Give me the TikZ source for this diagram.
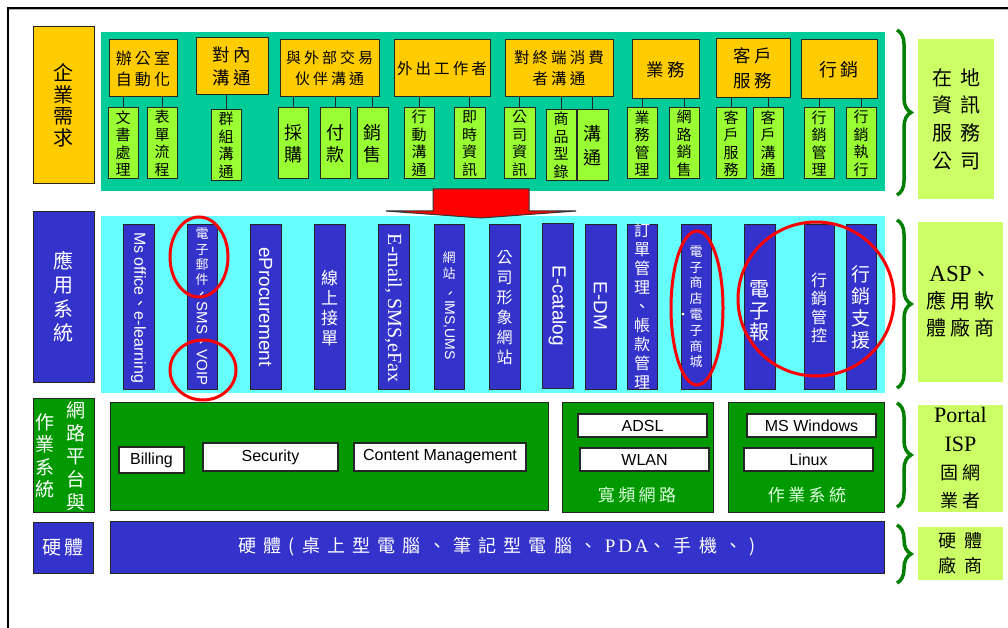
\documentclass[tikz,border=0pt]{standalone}
\usepackage{fontspec}
\setmainfont{Liberation Serif}
\newfontfamily\arial{Liberation Sans}
\newfontfamily\cjk{Noto Sans CJK TC}
\newfontfamily\cjkw[LetterSpace=20]{Noto Sans CJK TC}
\newfontfamily\cjkww[LetterSpace=40]{Noto Sans CJK TC}
\newfontfamily\serifw[LetterSpace=15]{Liberation Serif}
\usetikzlibrary{decorations.pathreplacing,shapes.geometric}
\definecolor{orangeC}{HTML}{FFCC00}
\definecolor{subC}{HTML}{99FF33}
\definecolor{tealC}{HTML}{00CC99}
\definecolor{cyanC}{HTML}{66FFFF}
\definecolor{blueC}{HTML}{3333CC}
\definecolor{dgC}{HTML}{009900}
\definecolor{lgC}{HTML}{CCFF66}
\definecolor{braceC}{HTML}{007F00}
\definecolor{paleC}{HTML}{DDFFDD}
\newcommand\fs[2]{\fontsize{#1}{#2}\selectfont}
\newcommand\B[8]{\node[#1, minimum width={#5-#3}, minimum height={#6-#4}, font={#7}] (#2) at ({(#3+#5)/2},{(#4+#6)/2}) {#8};}
\begin{document}
\begin{tikzpicture}[x=1pt,y=-1pt,
  base/.style={draw=black!85, line width=1pt, inner sep=0pt, outer sep=0pt, align=center},
  orange/.style={base, fill=orangeC},
  sub/.style={base, fill=subC},
  bluebox/.style={base, fill=blueC, text=white},
  dgbox/.style={base, fill=dgC, text=white},
  wbox/.style={base, fill=white, line width=1.2pt},
  bg/.style={draw=none, inner sep=0pt, outer sep=0pt},
  lbl/.style={draw=none, fill=lgC, inner sep=0pt, outer sep=0pt, align=center},
  conn/.style={draw=black!85, line width=1pt},
  ring/.style={ellipse, draw=red, line width=3pt, inner sep=0pt, outer sep=0pt},
  txt/.style={inner sep=0pt, align=center},
  wtxt/.style={inner sep=0pt, align=center, text=white},
  bracestyle/.style={decorate, decoration={brace, amplitude=14pt}, draw=braceC, line width=3.5pt}
]
\useasboundingbox (0,0) rectangle (1008,628);
% frame
\draw[gray!60, line width=1pt] (9,9.8) -- (1008,9.8);
\draw[black, line width=1.2pt] (8,628) -- (8,8) -- (1008,8);

% ===== Row 1 =====
\B{orange}{req}{33}{27}{94}{184}{\cjk\fs{20}{21.5}}{企\\業\\需\\求}
\B{bg, fill=tealC}{tealbg}{101}{32}{885}{191}{}{}
\B{orange}{h1}{109}{40}{177}{97}{\cjkw\fs{16}{21}}{辦公室\\自動化}
\B{orange}{h2}{196}{38}{268}{95}{\cjkw\fs{17.5}{23}}{對內\\溝通}
\B{orange}{h3}{280}{40}{379}{97}{\cjkw\fs{15}{21}}{與外部交易\\伙伴溝通}
\B{orange}{h4}{394}{40}{490}{97}{\cjkw\fs{15.5}{21}}{外出工作者}
\B{orange}{h5}{505}{40}{613}{97}{\cjkw\fs{15.5}{21}}{對終端消費\\者溝通}
\B{orange}{h6}{632}{40}{699}{99}{\cjkw\fs{17.5}{23}}{業務}
\B{orange}{h7}{716}{39}{790}{98}{\cjkw\fs{17.5}{25}}{客戶\\服務}
\B{orange}{h8}{801}{40}{877}{99}{\cjkw\fs{18}{23}}{行銷}

\B{sub}{s1}{108}{108}{138}{179}{\cjk\fs{15}{17.5}}{文\\書\\處\\理}
\B{sub}{s2}{147}{108}{177}{179}{\cjk\fs{15}{17.5}}{表\\單\\流\\程}
\B{sub}{s3}{211}{110}{241}{181}{\cjk\fs{15}{17.5}}{群\\組\\溝\\通}
\B{sub}{s4}{278}{108}{308}{179}{\cjk\fs{18}{22}}{採\\購}
\B{sub}{s5}{320}{108}{350}{179}{\cjk\fs{18}{22}}{付\\款}
\B{sub}{s6}{357}{108}{388}{179}{\cjk\fs{18}{22}}{銷\\售}
\B{sub}{s7}{404}{108}{434}{179}{\cjk\fs{15}{17.5}}{行\\動\\溝\\通}
\B{sub}{s8}{454}{108}{485}{179}{\cjk\fs{15}{17.5}}{即\\時\\資\\訊}
\B{sub}{s9}{504}{108}{535}{179}{\cjk\fs{15}{17.5}}{公\\司\\資\\訊}
\B{sub}{s10}{546}{110}{576}{181}{\cjk\fs{15}{17.5}}{商\\品\\型\\錄}
\B{sub}{s11}{577}{110}{608}{181}{\cjk\fs{18}{24}}{溝\\通}
\B{sub}{s12}{627}{108}{657}{179}{\cjk\fs{15}{17.5}}{業\\務\\管\\理}
\B{sub}{s13}{669}{108}{699}{179}{\cjk\fs{15}{17.5}}{網\\路\\銷\\售}
\B{sub}{s14}{716}{108}{746}{179}{\cjk\fs{15}{17.5}}{客\\戶\\服\\務}
\B{sub}{s15}{753}{108}{783}{179}{\cjk\fs{15}{17.5}}{客\\戶\\溝\\通}
\B{sub}{s16}{804}{108}{834}{179}{\cjk\fs{15}{17.5}}{行\\銷\\管\\理}
\B{sub}{s17}{846}{108}{876}{179}{\cjk\fs{15}{17.5}}{行\\銷\\執\\行}

\foreach \h/\s in {h1/s1,h1/s2,h2/s3,h3/s4,h3/s5,h3/s6,h4/s7,h4/s8,h5/s9,h5/s10,h5/s11,h6/s12,h6/s13,h7/s14,h7/s15,h8/s16,h8/s17}
  \draw[conn] (\h.south -| \s.north) -- (\s.north);

% ===== Row 2 =====
\B{bluebox}{app}{33}{212}{94}{382}{\cjk\fs{20}{24}}{應\\用\\系\\統}
\B{bg, fill=cyanC}{cyanbg}{101}{216}{885}{393}{}{}
\B{bluebox}{b1}{123}{225}{154}{389}{}{}
\B{bluebox}{b2}{187}{225}{217}{389}{}{}
\B{bluebox}{b3}{250}{225}{281}{389}{}{}
\B{bluebox}{b4}{314}{225}{345}{389}{}{}
\B{bluebox}{b5}{378}{225}{409}{389}{}{}
\B{bluebox}{b6}{434}{225}{464}{389}{}{}
\B{bluebox}{b7}{489}{225}{520}{389}{}{}
\B{bluebox}{b8}{542}{224}{573}{388}{}{}
\B{bluebox}{b9}{585}{225}{616}{389}{}{}
\B{bluebox}{b10}{627}{225}{657}{389}{}{}
\B{bluebox}{b11}{681}{225}{711}{389}{}{}
\B{bluebox}{b12}{744}{225}{775}{389}{}{}
\B{bluebox}{b13}{804}{225}{834}{389}{}{}
\B{bluebox}{b14}{846}{225}{876}{389}{}{}

\node[wtxt, rotate=-90, font=\arial\fs{16}{16}] (t1) at (138.5,307.5) {Ms office{\cjk 、}e-learning};
\node[wtxt, font=\cjk\fs{13}{15.3}] (t2a) at (202,257) {電\\子\\郵\\件};
\node[wtxt, rotate=-90, font=\arial\fs{15}{15}] (t2b) at (202,336) {{\cjk 、}SMS{\cjk 、}VOIP};
\node[wtxt, rotate=-90, font=\arial\fs{19}{19}] (t3) at (265.5,307) {eProcurement};
\node[wtxt, font=\cjk\fs{17}{20}] (t4) at (329.5,308) {線\\上\\接\\單};
\node[wtxt, rotate=-90, font=\rmfamily\fs{20}{20}] (t5) at (393.5,308) {E-mail, SMS,eFax};
\node[wtxt, font=\cjk\fs{13}{16}] (t6a) at (449,266) {網\\站};
\node[wtxt, rotate=-90, font=\arial\fs{14}{14}] (t6b) at (449,323) {{\cjk 、}IMS,UMS};
\node[wtxt, font=\cjk\fs{16}{20}] (t7) at (504.5,308) {公\\司\\形\\象\\網\\站};
\node[wtxt, rotate=-90, font=\arial\fs{19}{19}] (t8) at (557.5,306) {E-catalog};
\node[wtxt, rotate=-90, font=\arial\fs{19}{19}] (t9) at (600.5,306) {E-DM};
\node[wtxt, font=\cjk\fs{16}{19}] (t10) at (642,306) {訂\\單\\管\\理\\、\\帳\\款\\管\\理};
\node[wtxt, font=\cjk\fs{13}{15.8}] (t11) at (696,307) {電\\子\\商\\店\\\llap{‧}電\\子\\商\\城};
\node[wtxt, font=\cjk\fs{20}{21.5}] (t12) at (759.5,311) {電\\子\\報};
\node[wtxt, font=\cjk\fs{16}{18.5}] (t13) at (819,308) {行\\銷\\管\\控};
\node[wtxt, font=\cjk\fs{19}{22}] (t14) at (861,307) {行\\銷\\支\\援};

\node[ring, minimum width=58, minimum height=80] (e1) at (199,257) {};
\node[ring, minimum width=66, minimum height=60] (e2) at (203,370) {};
\node[ring, minimum width=52, minimum height=154] (e3) at (697,308) {};
\node[ring, minimum width=156, minimum height=154] (e4) at (816,299) {};

% ===== Row 3 =====
\B{dgbox}{net}{33}{398}{94}{512}{}{}
\node[wtxt, font=\cjk\fs{19}{23}] (netr) at (76,456) {網\\路\\平\\台\\與};
\node[wtxt, font=\cjk\fs{19}{22.3}] (netl) at (45,456) {作\\業\\系\\統};
\B{dgbox}{plat}{110}{402}{548}{510}{}{}
\B{wbox}{bill}{119}{447}{184}{473}{\arial\fs{16}{16}}{Billing}
\B{wbox}{sec}{203}{443}{338}{471}{\arial\fs{16}{16}}{Security}
\B{wbox}{cm}{354}{443}{526}{471}{\arial\fs{16}{16}}{Content Management}
\B{dgbox}{bb}{562}{402}{713}{512}{}{}
\B{wbox}{adsl}{578}{414}{707}{437}{\arial\fs{16}{16}}{ADSL}
\B{wbox}{wlan}{580}{448}{709}{471}{\arial\fs{16}{16}}{WLAN}
\node[txt, text=paleC, font=\cjkw\fs{17}{17}] (bbt) at (637,495) {寬頻網路};
\B{dgbox}{os}{728}{402}{884}{512}{}{}
\B{wbox}{win}{747}{414}{876}{437}{\arial\fs{16}{16}}{MS Windows}
\B{wbox}{lin}{744}{448}{873}{471}{\arial\fs{16}{16}}{Linux}
\node[txt, text=paleC, font=\cjkw\fs{17}{17}] (ost) at (807,495) {作業系統};

% ===== Row 4 =====
\B{bluebox}{hwl}{33}{522}{93}{573}{\cjkw\fs{19}{19}}{硬體}
\B{bluebox}{hw}{110}{521}{884}{573}{\cjkww\fs{18}{18}}{硬體(桌上型電腦、筆記型電腦、{\serifw\fs{19}{19} PDA}、手機、)}

% ===== Right side =====
\coordinate (r1a) at (897,30);  \coordinate (r1b) at (897,195);
\coordinate (r2a) at (897,220); \coordinate (r2b) at (897,388);
\coordinate (r3a) at (897,403); \coordinate (r3b) at (897,507);
\coordinate (r4a) at (897,525); \coordinate (r4b) at (897,583);
\draw[bracestyle] (r1a) -- (r1b);
\draw[bracestyle] (r2a) -- (r2b);
\draw[bracestyle] (r3a) -- (r3b);
\draw[bracestyle] (r4a) -- (r4b);
\B{lbl}{l1}{918}{39}{994}{199}{\cjkww\fs{20}{27.7}}{在地\\資訊\\服務\\公司}
\B{lbl}{l2}{918}{222}{1003}{382}{\cjkw\fs{20}{27}}{{\rmfamily\fs{23}{27}ASP}、\\應用軟\\體廠商}
\B{lbl}{l3}{918}{405}{1003}{512}{\cjkw\fs{18}{28.3}}{{\rmfamily\fs{22}{28}Portal}\\{\rmfamily\fs{22}{28}ISP}\\固網\\業者}
\B{lbl}{l4}{918}{527}{1003}{580}{\cjkww\fs{18}{25}}{硬體\\廠商}

% ===== Arrow =====
\draw[fill=red, draw=black!80, line width=1pt] (433,189) -- (529,189) -- (529,211) -- (576,211) -- (481,218) -- (386,211) -- (433,211) -- cycle;
\end{tikzpicture}
\end{document}
